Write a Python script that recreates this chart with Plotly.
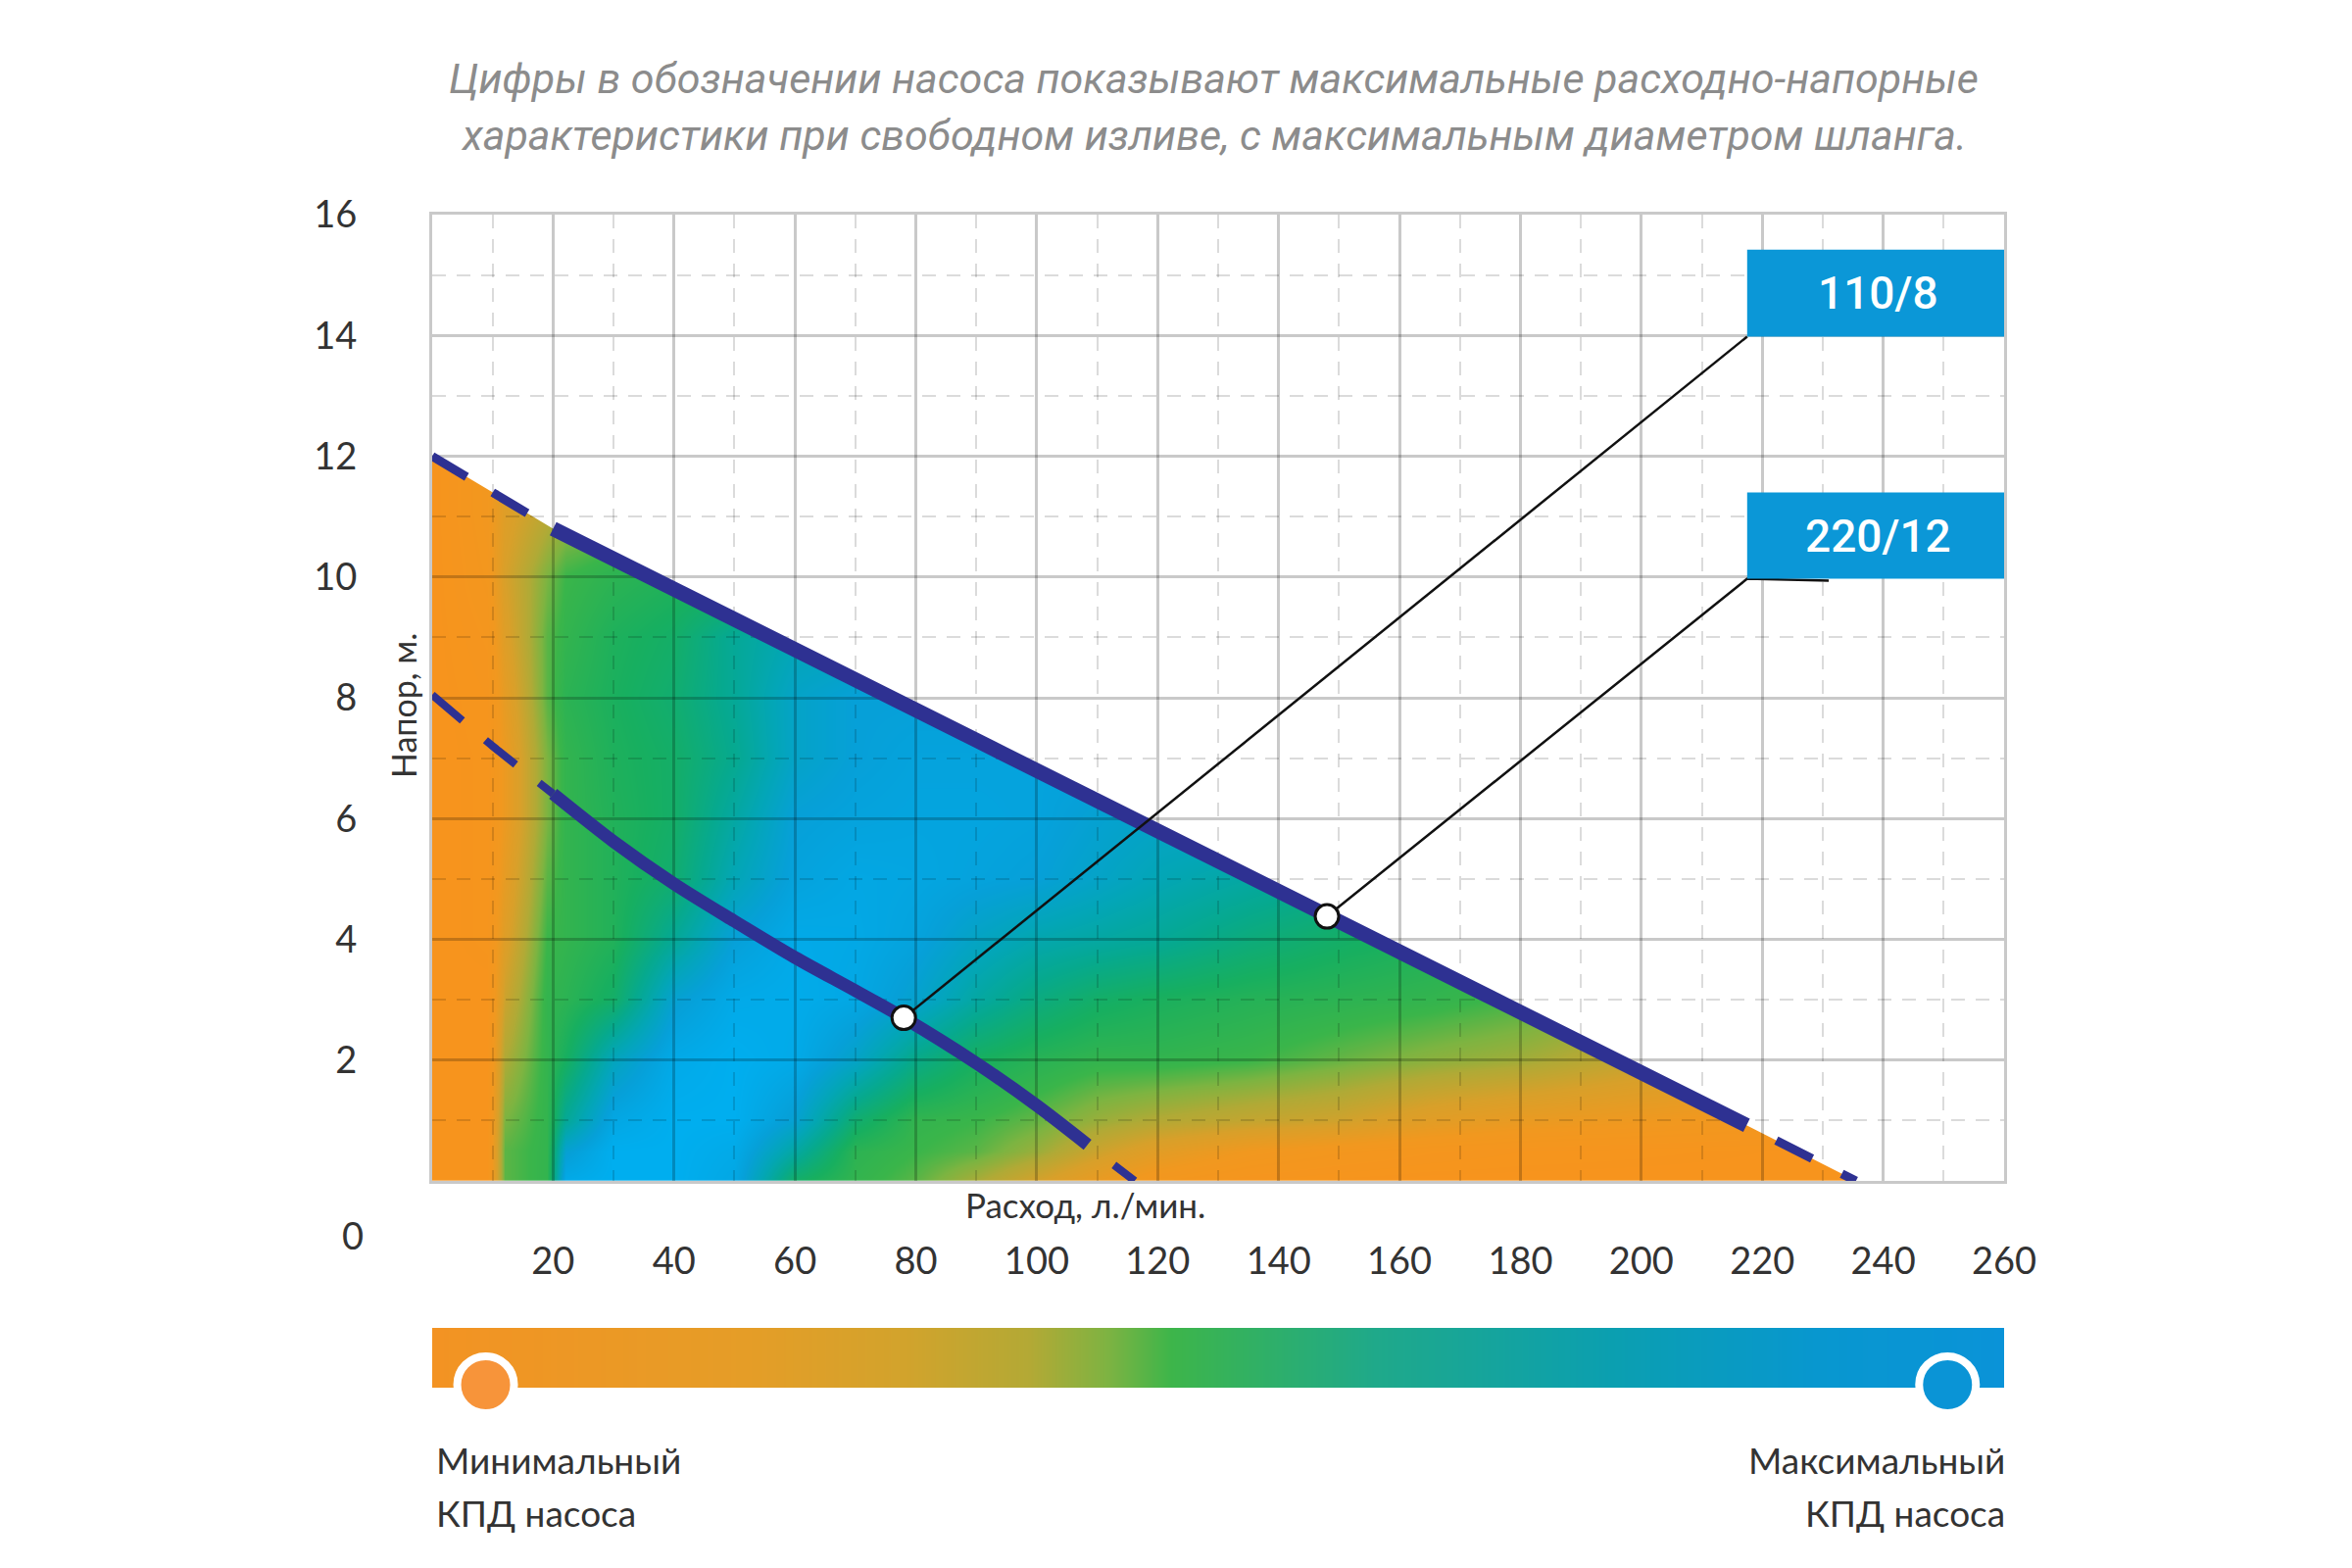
import plotly.graph_objects as go

# ---------------- data ----------------
x_ticks = [20, 40, 60, 80, 100, 120, 140, 160, 180, 200, 220, 240, 260]
y_ticks = [2, 4, 6, 8, 10, 12, 14, 16]
x_minor = [10, 30, 50, 70, 90, 110, 130, 150, 170, 190, 210, 230, 250]
y_minor = [1, 3, 5, 7, 9, 11, 13, 15]

# pump 220/12 (upper curve)
upper_x = [0, 20, 217.4, 235.5]
upper_y = [12.0, 10.8, 0.92, 0.0]
# pump 110/8 (lower curve)
lower_x = [0, 10, 20, 30, 40, 50, 60, 70, 78, 90, 100, 108.4, 116.2]
lower_y = [8.05, 7.2, 6.41, 5.62, 4.92, 4.3, 3.7, 3.15, 2.7, 1.95, 1.25, 0.6, 0.0]

pump_names = ["110/8", "220/12"]
duty_x = [78, 148]
duty_y = [2.7, 4.38]

# efficiency field (0 = minimum, 1 = maximum)
field_x = [0, 9, 12, 19, 22, 30, 40, 50, 60, 70, 80, 90, 100, 110, 120, 135, 150, 165, 180, 200, 220, 240]
field_y = [0, 0.5, 1, 2, 3, 4, 5, 6, 7, 8, 9, 10, 11, 12]
field_z = [
    [0, 0, 0.45, 0.50, 0.97, 1.00, 1.00, 0.95, 0.60, 0.50, 0.45, 0.36, 0.26, 0.16, 0.08, 0.03, 0.01, 0, 0, 0, 0, 0],
    [0, 0, 0.45, 0.50, 0.88, 1.00, 1.00, 0.97, 0.75, 0.52, 0.48, 0.45, 0.38, 0.28, 0.20, 0.12, 0.08, 0.05, 0.03, 0.02, 0.01, 0],
    [0, 0, 0.42, 0.50, 0.72, 0.95, 1.00, 1.00, 0.88, 0.62, 0.50, 0.48, 0.44, 0.38, 0.34, 0.30, 0.27, 0.20, 0.16, 0.13, 0.10, 0.05],
    [0, 0, 0.35, 0.50, 0.58, 0.82, 0.97, 1.00, 0.97, 0.85, 0.68, 0.58, 0.53, 0.50, 0.50, 0.48, 0.44, 0.40, 0.37, 0.30, 0.25, 0.25],
    [0, 0, 0.28, 0.50, 0.52, 0.60, 0.88, 0.97, 0.98, 0.95, 0.87, 0.75, 0.66, 0.60, 0.57, 0.54, 0.52, 0.50, 0.47, 0.40, 0.35, 0.35],
    [0, 0.02, 0.22, 0.48, 0.50, 0.55, 0.72, 0.90, 0.97, 0.96, 0.92, 0.84, 0.78, 0.75, 0.72, 0.65, 0.60, 0.56, 0.50, 0.50, 0.50, 0.50],
    [0, 0.02, 0.18, 0.45, 0.50, 0.55, 0.62, 0.80, 0.92, 0.95, 0.94, 0.92, 0.90, 0.85, 0.80, 0.75, 0.70, 0.70, 0.70, 0.70, 0.70, 0.70],
    [0, 0.02, 0.15, 0.42, 0.50, 0.55, 0.60, 0.75, 0.90, 0.92, 0.93, 0.93, 0.92, 0.88, 0.85, 0.85, 0.85, 0.85, 0.85, 0.85, 0.85, 0.85],
    [0, 0.02, 0.15, 0.42, 0.50, 0.56, 0.60, 0.70, 0.85, 0.90, 0.92, 0.92, 0.92, 0.92, 0.92, 0.92, 0.92, 0.92, 0.92, 0.92, 0.92, 0.92],
    [0, 0.03, 0.18, 0.45, 0.52, 0.57, 0.62, 0.72, 0.85, 0.90, 0.90, 0.90, 0.90, 0.90, 0.90, 0.90, 0.90, 0.90, 0.90, 0.90, 0.90, 0.90],
    [0, 0.05, 0.22, 0.45, 0.50, 0.56, 0.60, 0.72, 0.80, 0.80, 0.80, 0.80, 0.80, 0.80, 0.80, 0.80, 0.80, 0.80, 0.80, 0.80, 0.80, 0.80],
    [0, 0.08, 0.25, 0.42, 0.48, 0.52, 0.55, 0.55, 0.55, 0.55, 0.55, 0.55, 0.55, 0.55, 0.55, 0.55, 0.55, 0.55, 0.55, 0.55, 0.55, 0.55],
    [0, 0.10, 0.22, 0.33, 0.38, 0.42, 0.42, 0.42, 0.42, 0.42, 0.42, 0.42, 0.42, 0.42, 0.42, 0.42, 0.42, 0.42, 0.42, 0.42, 0.42, 0.42],
    [0, 0.10, 0.20, 0.30, 0.35, 0.35, 0.35, 0.35, 0.35, 0.35, 0.35, 0.35, 0.35, 0.35, 0.35, 0.35, 0.35, 0.35, 0.35, 0.35, 0.35, 0.35],
]
bar_levels = [0, 1]

title_lines = ["Цифры в обозначении насоса показывают максимальные расходно-напорные",
               "характеристики при свободном изливе, с максимальным диаметром шланга."]

# ---------------- styling ----------------
W, H = 2400, 1600
ML, MR, MT, MB = 441, 355, 219, 180
PW, PH = W - ML - MR, H - MT - MB


def px(X):
    return (X - ML) / PW


def py(Y):
    return (H - MB - Y) / PH


NAVY = "#2E3192"
GRID = "rgba(0,0,0,0.21)"
GRID_MINOR = "rgba(0,0,0,0.14)"
TXT = "#333333"
BOX = "#0B97D7"

field_scale = [
    [0.0, "#F7941D"], [0.12, "#F1981F"], [0.25, "#D8A02A"], [0.35, "#B0AA36"],
    [0.42, "#7DB441"], [0.48, "#3AB54A"], [0.58, "#17AF60"], [0.70, "#06A98F"],
    [0.80, "#03A6B6"], [0.90, "#06A0D8"], [1.0, "#00AEEF"],
]
bar_scale = [
    [0.0, "#F39323"], [0.2, "#E59D27"], [0.3, "#D2A32C"], [0.38, "#B3A935"],
    [0.43, "#7DB342"], [0.47, "#3DB54A"], [0.6, "#1FA98A"], [0.75, "#0B9FB0"],
    [0.88, "#0897CF"], [1.0, "#0A93D8"],
]

fig = go.Figure()

# gradient field (bottom subplot)
fig.add_trace(go.Heatmap(x=field_x, y=field_y, z=field_z, colorscale=field_scale,
                         zmin=0, zmax=1, zsmooth="best", showscale=False,
                         hoverinfo="skip", xaxis="x", yaxis="y"))
# white mask above the 220/12 curve
mask_x = upper_x + [upper_x[-1], 265, 265, -5, -5, upper_x[0]]
mask_y = upper_y + [-1, -1, 17, 17, upper_y[0], upper_y[0]]
fig.add_trace(go.Scatter(x=mask_x, y=mask_y, mode="lines", fill="toself",
                         fillcolor="white", line=dict(width=0, color="white"),
                         hoverinfo="skip", xaxis="x", yaxis="y", showlegend=False))


def seg(xs, ys, i0, i1, width, dash):
    fig.add_trace(go.Scatter(x=xs[i0:i1 + 1], y=ys[i0:i1 + 1], mode="lines",
                             line=dict(color=NAVY, width=width, dash=dash,
                                       shape="spline", smoothing=0.8),
                             hoverinfo="skip", xaxis="x2", yaxis="y2",
                             showlegend=False))


# upper curve
seg(upper_x, upper_y, 0, 1, 9, "41px,31px")
seg(upper_x, upper_y, 1, 2, 15, "solid")
seg(upper_x, upper_y, 2, 3, 9, "0px,34px,41px,0px")
# lower curve
seg(lower_x, lower_y, 0, 2, 8, "40px,31px")
seg(lower_x, lower_y, 2, 11, 13, "solid")
seg(lower_x, lower_y, 11, 12, 8, "0px,34px,41px,0px")

# label boxes (x0, x1, y0, y1) and leader lines
boxes = [(217.5, 260, 13.98, 15.42), (217.5, 260, 9.97, 11.4)]
leader_tail = [0, 13.5]
for i, (bx0, bx1, by0, by1) in enumerate(boxes):
    lx = [duty_x[i], bx0]
    ly = [duty_y[i], by0]
    if leader_tail[i]:
        lx.append(bx0 + leader_tail[i])
        ly.append(by0 - 0.03)
    fig.add_trace(go.Scatter(x=lx, y=ly, mode="lines",
                             line=dict(color="#111111", width=2.5),
                             hoverinfo="skip", xaxis="x2", yaxis="y2",
                             showlegend=False))

fig.add_trace(go.Scatter(x=duty_x, y=duty_y, mode="markers",
                         marker=dict(size=24, color="white",
                                     line=dict(color="#111111", width=3)),
                         hoverinfo="skip", xaxis="x2", yaxis="y2",
                         showlegend=False, cliponaxis=False))

shapes = []
annotations = []
for i, (bx0, bx1, by0, by1) in enumerate(boxes):
    shapes.append(dict(type="rect", xref="x2", yref="y2", x0=bx0, x1=bx1,
                       y0=by0, y1=by1, fillcolor=BOX, line=dict(width=0),
                       layer="above"))
    annotations.append(dict(xref="x2", yref="y2", x=(bx0 + bx1) / 2 + 0.5,
                            y=(by0 + by1) / 2, text=pump_names[i], showarrow=False,
                            font=dict(family="Roboto", size=46, color="white", weight=500),
                            xanchor="center", yanchor="middle"))

# colour legend bar
fig.add_trace(go.Heatmap(x=bar_levels, y=[0, 1], z=[bar_levels, bar_levels],
                         colorscale=bar_scale, zmin=0, zmax=1, zsmooth="best",
                         showscale=False, hoverinfo="skip", xaxis="x3", yaxis="y3"))
fig.add_trace(go.Scatter(x=[0.034, 0.964], y=[0.05, 0.05], mode="markers",
                         marker=dict(size=58, color=["#F7943A", "#0A94D6"],
                                     line=dict(color="white", width=8)),
                         hoverinfo="skip", xaxis="x3", yaxis="y3",
                         showlegend=False, cliponaxis=False))

# texts
tfont = dict(family="Roboto", size=43, color="#8C8C8C", style="italic")
annotations.append(dict(xref="paper", yref="paper", x=px(1238), y=py(80),
                        text=title_lines[0], showarrow=False, font=tfont,
                        xanchor="center", yanchor="middle"))
annotations.append(dict(xref="paper", yref="paper", x=px(1238), y=py(138),
                        text=title_lines[1], showarrow=False, font=tfont,
                        xanchor="center", yanchor="middle"))
lfont = dict(family="Lato", size=37, color=TXT)
for txt, X, Y, anc in [("Минимальный", 443, 1489, "left"), ("КПД насоса", 443, 1543, "left"),
                       ("Максимальный", 2048, 1489, "right"), ("КПД насоса", 2048, 1543, "right")]:
    annotations.append(dict(xref="paper", yref="paper", x=px(X), y=py(Y), text=txt,
                            showarrow=False, font=lfont, xanchor=anc, yanchor="middle"))
annotations.append(dict(xref="paper", yref="paper", x=px(373), y=py(1260), text="0",
                        showarrow=False, font=dict(family="Lato", size=38, color=TXT),
                        xanchor="right", yanchor="middle"))
annotations.append(dict(xref="paper", yref="paper", x=px(411), y=py(720), text="Напор, м.",
                        showarrow=False, textangle=-90,
                        font=dict(family="Lato", size=34, color=TXT),
                        xanchor="center", yanchor="middle"))
annotations.append(dict(xref="paper", yref="paper", x=px(1107), y=py(1229),
                        text="Расход, л./мин.", showarrow=False,
                        font=dict(family="Lato", size=35, color=TXT),
                        xanchor="center", yanchor="middle"))

main_dom = [py(1205), 1]
bar_dom = [py(1416), py(1355)]
tick_font = dict(family="Lato", size=38, color=TXT)

fig.update_layout(
    width=W, height=H,
    margin=dict(l=ML, r=MR, t=MT, b=MB, pad=0),
    paper_bgcolor="white", plot_bgcolor="rgba(0,0,0,0)",
    showlegend=False,
    shapes=shapes, annotations=annotations,
    xaxis=dict(domain=[0, 1], range=[0, 260], visible=False, anchor="y", fixedrange=True),
    yaxis=dict(domain=main_dom, range=[0, 16], visible=False, anchor="x", fixedrange=True),
    xaxis2=dict(domain=[0, 1], range=[0, 260], anchor="y2", tickmode="array",
                tickvals=x_ticks, ticktext=[str(v) for v in x_ticks],
                showgrid=True, gridcolor=GRID, gridwidth=3, zeroline=False,
                showline=True, mirror=True, linecolor=GRID, linewidth=3,
                ticks="", ticklabelstandoff=46, tickfont=tick_font,
                minor=dict(tickmode="array", tickvals=x_minor, showgrid=True,
                           gridcolor=GRID_MINOR, gridwidth=2, griddash="14px,11px"),
                fixedrange=True),
    yaxis2=dict(domain=main_dom, range=[0, 16], anchor="x2", tickmode="array",
                tickvals=y_ticks, ticktext=[str(v) for v in y_ticks],
                showgrid=True, gridcolor=GRID, gridwidth=3, zeroline=False,
                showline=True, mirror=True, linecolor=GRID, linewidth=3,
                ticks="", ticklabelstandoff=66, tickfont=tick_font,
                minor=dict(tickmode="array", tickvals=y_minor, showgrid=True,
                           gridcolor=GRID_MINOR, gridwidth=2, griddash="14px,11px"),
                fixedrange=True),
    xaxis3=dict(domain=[0, 1], range=[0, 1], visible=False, anchor="y3", fixedrange=True),
    yaxis3=dict(domain=bar_dom, range=[0, 1], visible=False, anchor="x3", fixedrange=True),
)

fig.write_html("out.html", config={"displayModeBar": False},
               post_script="document.body.style.margin='0';")
